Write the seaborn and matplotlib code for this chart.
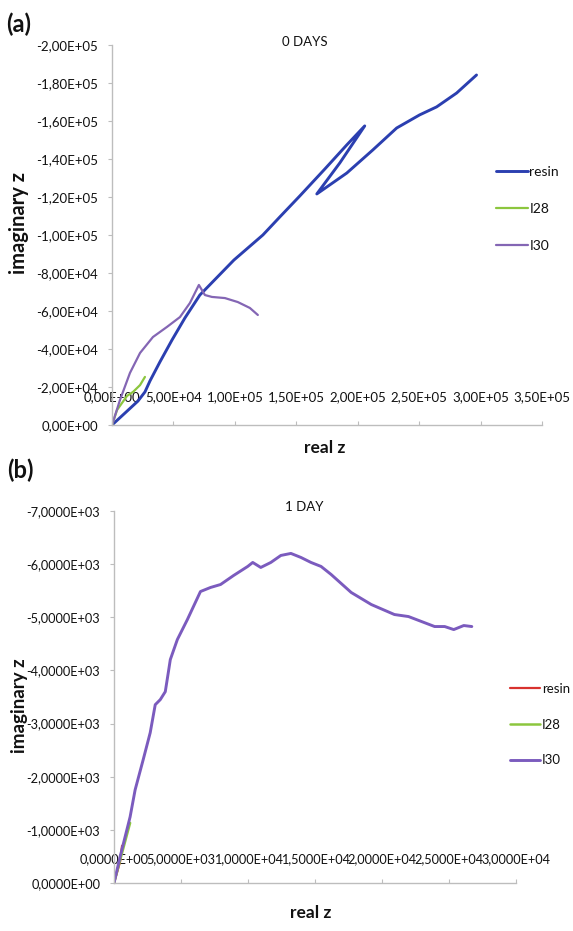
import matplotlib
matplotlib.use("Agg")
import matplotlib.pyplot as plt
import numpy as np
import pandas as pd
import seaborn as sns
from matplotlib.ticker import FixedLocator, FuncFormatter

# ---------------- Panel (a): 0 days ----------------
a_resin_re = [0, 1.057e4, 2.11e4, 2.68e4, 3.09e4, 3.9e4, 4.88e4, 5.93e4, 7.15e4, 9.92e4,
              1.228e5, 1.366e5, 1.528e5, 1.732e5, 1.911e5, 2.057e5, 1.854e5, 1.667e5,
              1.911e5, 2.122e5, 2.317e5, 2.504e5, 2.642e5, 2.805e5, 2.967e5]
a_resin_im = [0, -6.3e3, -1.26e4, -1.74e4, -2.32e4, -3.32e4, -4.47e4, -5.63e4, -6.84e4, -8.68e4,
              -1.0e5, -1.095e5, -1.205e5, -1.347e5, -1.474e5, -1.574e5, -1.379e5, -1.216e5,
              -1.326e5, -1.447e5, -1.563e5, -1.632e5, -1.674e5, -1.747e5, -1.842e5]

a_i28_re = [0, 4.1e3, 1.22e4, 1.71e4, 2.28e4, 2.68e4]
a_i28_im = [0, -7.9e3, -1.53e4, -1.74e4, -2.1e4, -2.53e4]

a_i30_re = [0, 6.5e3, 1.46e4, 2.28e4, 3.33e4, 4.47e4, 5.53e4, 6.34e4, 7.07e4,
            7.56e4, 8.13e4, 9.19e4, 1.024e5, 1.122e5, 1.187e5]
a_i30_im = [0, -1.32e4, -2.74e4, -3.79e4, -4.63e4, -5.16e4, -5.68e4, -6.42e4, -7.37e4,
            -6.84e4, -6.74e4, -6.68e4, -6.47e4, -6.16e4, -5.79e4]

a_xticks = [0, 5e4, 1e5, 1.5e5, 2e5, 2.5e5, 3e5, 3.5e5]
a_yticks = [0, -2e4, -4e4, -6e4, -8e4, -1e5, -1.2e5, -1.4e5, -1.6e5, -1.8e5, -2e5]

# ---------------- Panel (b): 1 day ----------------
b_resin_re = [0, 450, 600]
b_resin_im = [0, -400, -700]

b_i28_re = [0, 600, 1200]
b_i28_im = [0, -565, -1130]

b_i30_re = [0, 450, 825, 1200, 1575, 2175, 2700, 3075, 3450, 3825, 4050, 4200, 4725,
            5475, 6450, 7200, 7950, 8925, 9975, 10350, 10950, 11700, 12450, 13200,
            13950, 14700, 15450, 16200, 17700, 19200, 20925, 21975, 22950, 23925,
            24675, 25350, 26100, 26700]
b_i30_im = [0, -490, -867, -1244, -1753, -2319, -2828, -3355, -3450, -3600, -3960,
            -4204, -4581, -4958, -5485, -5561, -5617, -5787, -5957, -6032, -5938,
            -6032, -6164, -6202, -6126, -6032, -5957, -5806, -5467, -5240, -5052,
            -5014, -4920, -4826, -4826, -4769, -4845, -4826]

b_xticks = [0, 5e3, 1e4, 1.5e4, 2e4, 2.5e4, 3e4]
b_yticks = [0, -1e3, -2e3, -3e3, -4e3, -5e3, -6e3, -7e3]

series_names = ["resin", "I28", "I30"]

sns.set_theme(style="white")
plt.rcParams["font.family"] = ["Lato", "DejaVu Sans"]

AXIS_GREY = "#BDBDBD"
TEXT = "#111111"


def long_frame(res, i28, i30):
    parts = []
    for name, (re, im) in zip(series_names, (res, i28, i30)):
        parts.append(pd.DataFrame({"re": re, "im": im, "series": name,
                                   "order": np.arange(len(re))}))
    return pd.concat(parts, ignore_index=True)


def sci_comma(decimals):
    def fmt(v, _pos):
        return f"{v:.{decimals}E}".replace(".", ",")
    return fmt


def style_axes(ax, xticks, yticks, xlim, ylim, decimals, fs, xpad):
    ax.set_xlim(*xlim)
    ax.set_ylim(*ylim)
    ax.xaxis.set_major_locator(FixedLocator(xticks))
    ax.yaxis.set_major_locator(FixedLocator(yticks))
    ax.xaxis.set_major_formatter(FuncFormatter(sci_comma(decimals)))
    ax.yaxis.set_major_formatter(FuncFormatter(sci_comma(decimals)))
    for s in ("top", "right"):
        ax.spines[s].set_visible(False)
    for s in ("left", "bottom"):
        ax.spines[s].set_color(AXIS_GREY)
        ax.spines[s].set_linewidth(1.0)
    ax.tick_params(axis="y", direction="out", length=3, width=0.8,
                   color=AXIS_GREY, pad=7, labelsize=fs, labelcolor=TEXT, left=True)
    ax.tick_params(axis="x", direction="in", length=3, width=0.8,
                   color=AXIS_GREY, pad=xpad, labelsize=fs, labelcolor=TEXT, bottom=True)
    for lbl in ax.get_xticklabels():
        lbl.set_verticalalignment("center")
    ax.set_xlabel("")
    ax.set_ylabel("")
    ax.grid(False)
    ax.set_facecolor("white")


fig = plt.figure(figsize=(5.73, 9.31), dpi=100)
fig.patch.set_facecolor("white")

# ---- (a)
ax_a = fig.add_axes([0.1955, 0.5435, 0.7504, 0.4082])
df_a = long_frame((a_resin_re, a_resin_im), (a_i28_re, a_i28_im), (a_i30_re, a_i30_im))
pal_a = {"resin": "#2B3FB0", "I28": "#8CC63E", "I30": "#8466B4"}
lw_a = {"resin": 2.1, "I28": 1.6, "I30": 1.6}
for name in series_names:
    sub = df_a[df_a["series"] == name]
    sns.lineplot(data=sub, x="re", y="im", sort=False, estimator=None,
                 color=pal_a[name], lw=lw_a[name], label=name, ax=ax_a,
                 solid_capstyle="round", solid_joinstyle="round", legend=False)
style_axes(ax_a, a_xticks, a_yticks, (0, 3.5e5), (0, -2e5), 2, 9.5, -20)

# ---- (b)
ax_b = fig.add_axes([0.1990, 0.0516, 0.7016, 0.3995])
df_b = long_frame((b_resin_re, b_resin_im), (b_i28_re, b_i28_im), (b_i30_re, b_i30_im))
pal_b = {"resin": "#D8322E", "I28": "#8CC63E", "I30": "#7B5BBE"}
lw_b = {"resin": 1.6, "I28": 1.8, "I30": 2.1}
for name in series_names:
    sub = df_b[df_b["series"] == name]
    sns.lineplot(data=sub, x="re", y="im", sort=False, estimator=None,
                 color=pal_b[name], lw=lw_b[name], label=name, ax=ax_b,
                 solid_capstyle="round", solid_joinstyle="round", legend=False)
style_axes(ax_b, b_xticks, b_yticks, (0, 3e4), (0, -7e3), 4, 9.2, -17)

# Legends at the right of each panel
for ax, pal, lw, cy, lx, fs in ((ax_a, pal_a, lw_a, 0.7755, 0.8656, 10),
                                (ax_b, pal_b, lw_b, 0.2218, 0.8900, 9.5)):
    handles = [plt.Line2D([], [], color=pal[n], lw=lw[n]) for n in series_names]
    fig.legend(handles, series_names, loc="center left", bbox_to_anchor=(lx, cy),
               frameon=False, fontsize=fs, handlelength=2.3, handletextpad=0.1,
               labelspacing=1.8, borderpad=0, borderaxespad=0, labelcolor=TEXT)

# Titles, axis labels and panel tags
fig.text(305 / 573, 1 - 42 / 931, "0 DAYS", ha="center", va="center", fontsize=9.5, color=TEXT)
fig.text(304 / 573, 1 - 507 / 931, "1 DAY", ha="center", va="center", fontsize=9.5, color=TEXT)

fig.text(325 / 573, 1 - 448 / 931, "real z", ha="center", va="center",
         fontsize=12.5, fontweight="bold", color=TEXT)
fig.text(311 / 573, 1 - 913 / 931, "real z", ha="center", va="center",
         fontsize=12.5, fontweight="bold", color=TEXT)

fig.text(19 / 573, 1 - 223 / 931, "imaginary z", ha="center", va="center", rotation=90,
         fontsize=14.5, fontweight="bold", color=TEXT)
fig.text(20 / 573, 1 - 706 / 931, "imaginary z", ha="center", va="center", rotation=90,
         fontsize=13.5, fontweight="bold", color=TEXT)

fig.text(6 / 573, 1 - 24 / 931, "(a)", ha="left", va="center", fontsize=17,
         fontweight="bold", color=TEXT)
fig.text(7 / 573, 1 - 470 / 931, "(b)", ha="left", va="center", fontsize=17,
         fontweight="bold", color=TEXT)

fig.savefig("out.png", dpi=100, facecolor="white")
